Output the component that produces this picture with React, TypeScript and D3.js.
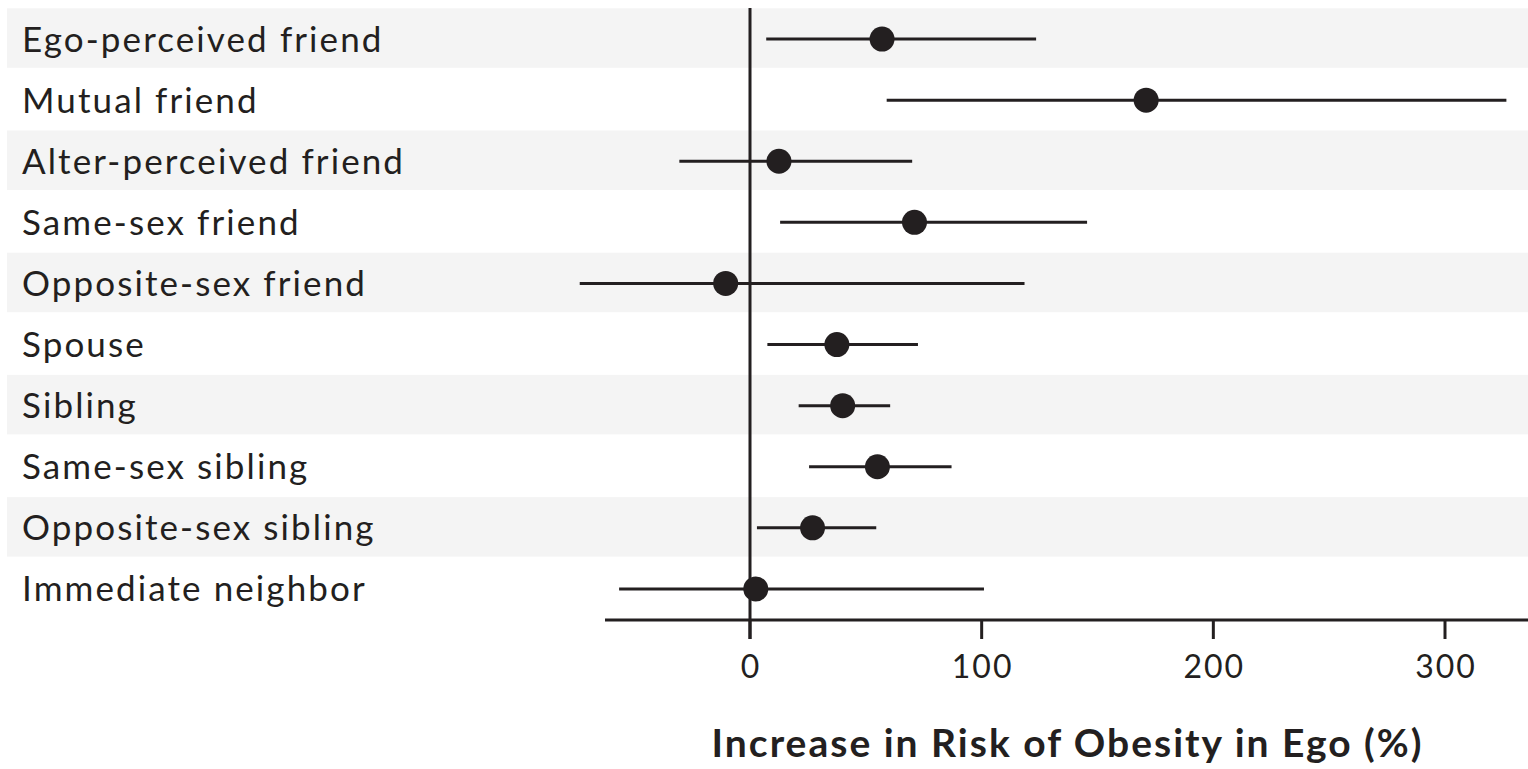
import React from "react";
import * as d3 from "d3";

const categories = [
  "Ego-perceived friend",
  "Mutual friend",
  "Alter-perceived friend",
  "Same-sex friend",
  "Opposite-sex friend",
  "Spouse",
  "Sibling",
  "Same-sex sibling",
  "Opposite-sex sibling",
  "Immediate neighbor",
];
const estimates = [57, 171, 12.5, 71, -10.5, 37.5, 40, 55, 27, 2.5];
const lowerCI = [7, 59, -30.5, 13, -73.5, 7.5, 21, 25.5, 3, -56.5];
const upperCI = [123.5, 326.5, 70, 145.5, 118.5, 72.5, 60.5, 87, 54.5, 101];
const tickValues = [0, 100, 200, 300];
const axisTitle = "Increase in Risk of Obesity in Ego (%)";

const W = 1528;
const H = 769;
const INK = "#231f20";
const BAND = "#f4f4f4";
const FONT = "Lato, 'Open Sans', sans-serif";

export default function App() {
  const x = d3.scaleLinear().domain([0, 300]).range([750, 1445]);
  const y = d3
    .scaleBand<string>()
    .domain(categories)
    .range([8.5, 8.5 + 61.1 * categories.length])
    .padding(0);
  const bw = y.bandwidth();
  const cy = (c: string) => (y(c) as number) + bw / 2;
  const axisY = 620;
  const axisLeft = 605;
  const bandH = 59.5;

  return (
    <svg
      width={W}
      height={H}
      style={{ position: "absolute", left: 0, top: 0, background: "#fff" }}
    >
      {categories.map((c, i) =>
        i % 2 === 0 ? (
          <rect
            key={"b" + c}
            x={7}
            y={cy(c) - bandH / 2 - 1}
            width={W - 7}
            height={bandH}
            fill={BAND}
          />
        ) : null
      )}
      {categories.map((c) => (
        <text
          key={"t" + c}
          x={22}
          y={cy(c) + 12.5}
          fontFamily={FONT}
          fontSize={35}
          letterSpacing={2.1}
          fill={INK}
        >
          {c}
        </text>
      ))}
      {/* zero line */}
      <line x1={x(0)} x2={x(0)} y1={8} y2={639} stroke={INK} strokeWidth={3} />
      {/* x axis */}
      <line x1={axisLeft} x2={W} y1={axisY} y2={axisY} stroke={INK} strokeWidth={3} />
      {tickValues.map((t) => (
        <g key={"tick" + t}>
          <line x1={x(t)} x2={x(t)} y1={axisY} y2={639} stroke={INK} strokeWidth={3} />
          <text
            x={x(t) + 1}
            y={678}
            textAnchor="middle"
            fontFamily={FONT}
            fontSize={32}
            letterSpacing={2}
            fill={INK}
          >
            {t}
          </text>
        </g>
      ))}
      <text
        x={(axisLeft + W) / 2 + 1}
        y={757}
        textAnchor="middle"
        fontFamily={FONT}
        fontWeight={700}
        fontSize={39}
        letterSpacing={2}
        fill={INK}
      >
        {axisTitle}
      </text>
      {categories.map((c, i) => (
        <g key={"m" + c}>
          <line
            x1={x(lowerCI[i])}
            x2={x(upperCI[i])}
            y1={cy(c)}
            y2={cy(c)}
            stroke={INK}
            strokeWidth={3}
          />
          <circle cx={x(estimates[i])} cy={cy(c)} r={12.5} fill={INK} />
        </g>
      ))}
    </svg>
  );
}
